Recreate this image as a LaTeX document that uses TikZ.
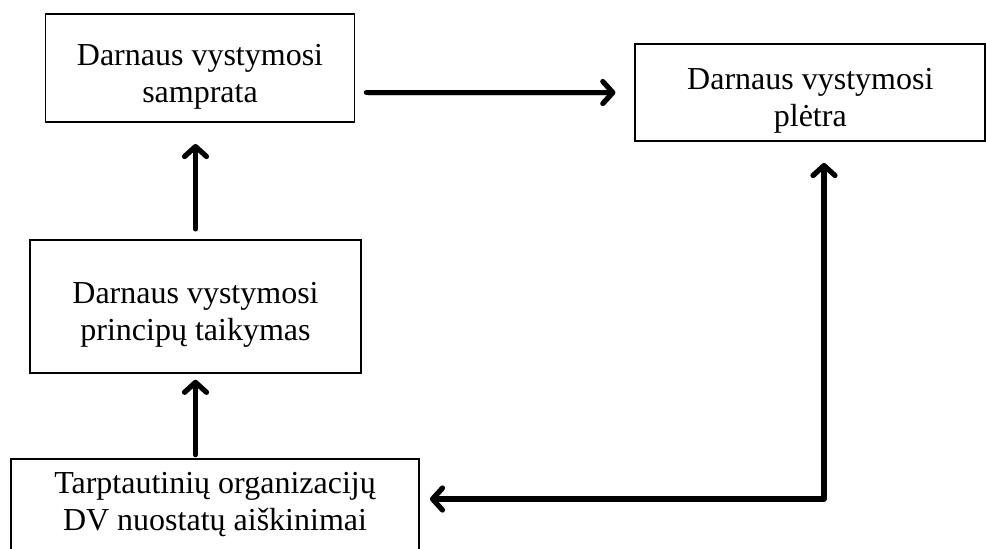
\documentclass[tikz,border=0pt]{standalone}
\usepackage{fontspec}
\setmainfont{Liberation Serif}
\usetikzlibrary{positioning, arrows.meta}
\newcommand{\topgap}{\rule{0pt}{19pt}}

\begin{document}
\begin{tikzpicture}[x=0.5pt, y=-0.5pt,
		box/.style={rectangle, draw, line width=0.9pt, align=center, inner sep=0pt,
			font=\fontsize{16}{18.5}\selectfont},
		flow/.style={line width=2.6pt, line cap=round, -{Straight Barb[length=5pt, width=11pt, line width=2.6pt, round]},
			preaction={draw=black!20, transform canvas={shift={(0.6pt,-1.2pt)}}}}]
		\useasboundingbox (0,0) rectangle (986,548);

		\node [box, minimum width=154.5pt, minimum height=54pt] (samp) at (200,68) {\topgap Darnaus vystymosi\\samprata};
		\node [box, minimum width=175pt, minimum height=48.5pt, right=139.5pt of samp, yshift=-12.25pt] (plet) {\topgap Darnaus vystymosi\\plėtra};
		\node [box, minimum width=165.5pt, minimum height=66.5pt, below=58pt of samp, xshift=-2.25pt] (princ) {\topgap Darnaus vystymosi\\principų taikymas};
		\node [box, minimum width=204pt, minimum height=46pt, below=42pt of princ, xshift=9.75pt] (tarp) {Tarptautinių organizacijų\\DV nuostatų aiškinimai};
		\coordinate (corner) at (824,499);

		\draw[flow, shorten <=5.5pt, shorten >=9.5pt] (samp.east |- plet.west) -- (plet.west);
		\draw[flow, shorten <=5pt, shorten >=10.5pt] (princ.north) -- (princ.north |- samp.south);
		\draw[flow, shorten <=1.5pt, shorten >=3pt] (princ.south |- tarp.north) -- (princ.south);
		\draw[flow, shorten >=5pt] (corner) -- (tarp.east |- corner);
		\draw[flow, shorten >=10.5pt] (corner) -- (corner |- plet.south);
	\end{tikzpicture}
\end{document}
